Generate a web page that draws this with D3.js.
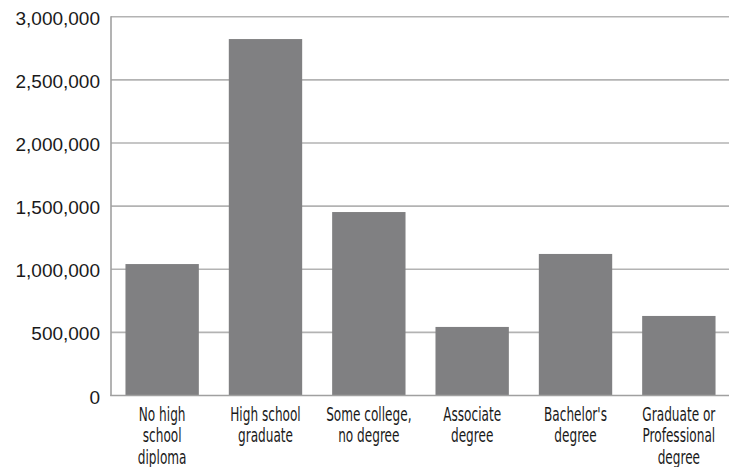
<!DOCTYPE html>
<html>
<head>
<meta charset="utf-8">
<script src="https://cdn.jsdelivr.net/npm/d3@7"></script>
<style>
  html, body { margin: 0; padding: 0; background: #fff; }
  svg { display: block; }
</style>
</head>
<body>
<svg id="chart" width="729" height="467"></svg>
<script>
const categories = [
  ["No high", "school", "diploma"],
  ["High school", "graduate"],
  ["Some college,", "no degree"],
  ["Associate", "degree"],
  ["Bachelor's", "degree"],
  ["Graduate or", "Professional", "degree"]
];
const values = [1041000, 2823000, 1453000, 543000, 1121000, 630000];
const yTicks = [0, 500000, 1000000, 1500000, 2000000, 2500000, 3000000];

const svg = d3.select("#chart");
const mLeft = 111, mRight = 729, mTop = 16.7, mBottom = 395.5;

const x = d3.scaleBand()
  .domain(d3.range(categories.length))
  .range([mLeft, 730])
  .paddingInner(0.29)
  .paddingOuter(0.14);

const y = d3.scaleLinear().domain([0, 3000000]).range([mBottom, mTop]);

// gridlines
svg.append("g").selectAll("line")
  .data(yTicks.filter(d => d > 0))
  .join("line")
  .attr("x1", mLeft).attr("x2", mRight)
  .attr("y1", d => y(d)).attr("y2", d => y(d))
  .attr("stroke", "#b3b3b3").attr("stroke-width", 1.6);

// bars
svg.append("g").selectAll("rect")
  .data(values)
  .join("rect")
  .attr("x", (d, i) => x(i))
  .attr("width", x.bandwidth())
  .attr("y", d => y(d))
  .attr("height", d => y(0) - y(d))
  .attr("fill", "#808082");

// y axis via d3 axis
const yAxis = d3.axisLeft(y)
  .tickValues(yTicks)
  .tickSize(0)
  .tickPadding(11)
  .tickFormat(d3.format(","));
const yg = svg.append("g").attr("transform", `translate(${mLeft},0)`).call(yAxis);
yg.select(".domain").remove();
yg.selectAll("text")
  .attr("font-family", "'Liberation Sans', Arial, sans-serif")
  .attr("font-size", 19)
  .attr("fill", "#1a1a1a")
  .attr("dy", "0.4em");

// axis lines
svg.append("line").attr("x1", mLeft).attr("x2", mLeft).attr("y1", mTop - 0.5).attr("y2", mBottom + 0.5)
  .attr("stroke", "#a0a0a0").attr("stroke-width", 1.6);
svg.append("line").attr("x1", mLeft - 0.8).attr("x2", mRight).attr("y1", mBottom).attr("y2", mBottom)
  .attr("stroke", "#a0a0a0").attr("stroke-width", 1.6);

// category labels
const scaleX = 0.69;
const lab = svg.append("g").selectAll("g")
  .data(categories)
  .join("g")
  .attr("transform", (d, i) => `translate(${x(i) + x.bandwidth() / 2},420.5) scale(${scaleX},1)`);
lab.each(function(lines) {
  const t = d3.select(this).append("text")
    .attr("text-anchor", "middle")
    .attr("font-family", "'DejaVu Sans Condensed', sans-serif")
    .attr("font-size", 19.5)
    .attr("fill", "#1a1a1a");
  lines.forEach((ln, k) => {
    t.append("tspan").attr("x", 0).attr("y", k * 21.6).text(ln);
  });
});
</script>
</body>
</html>
